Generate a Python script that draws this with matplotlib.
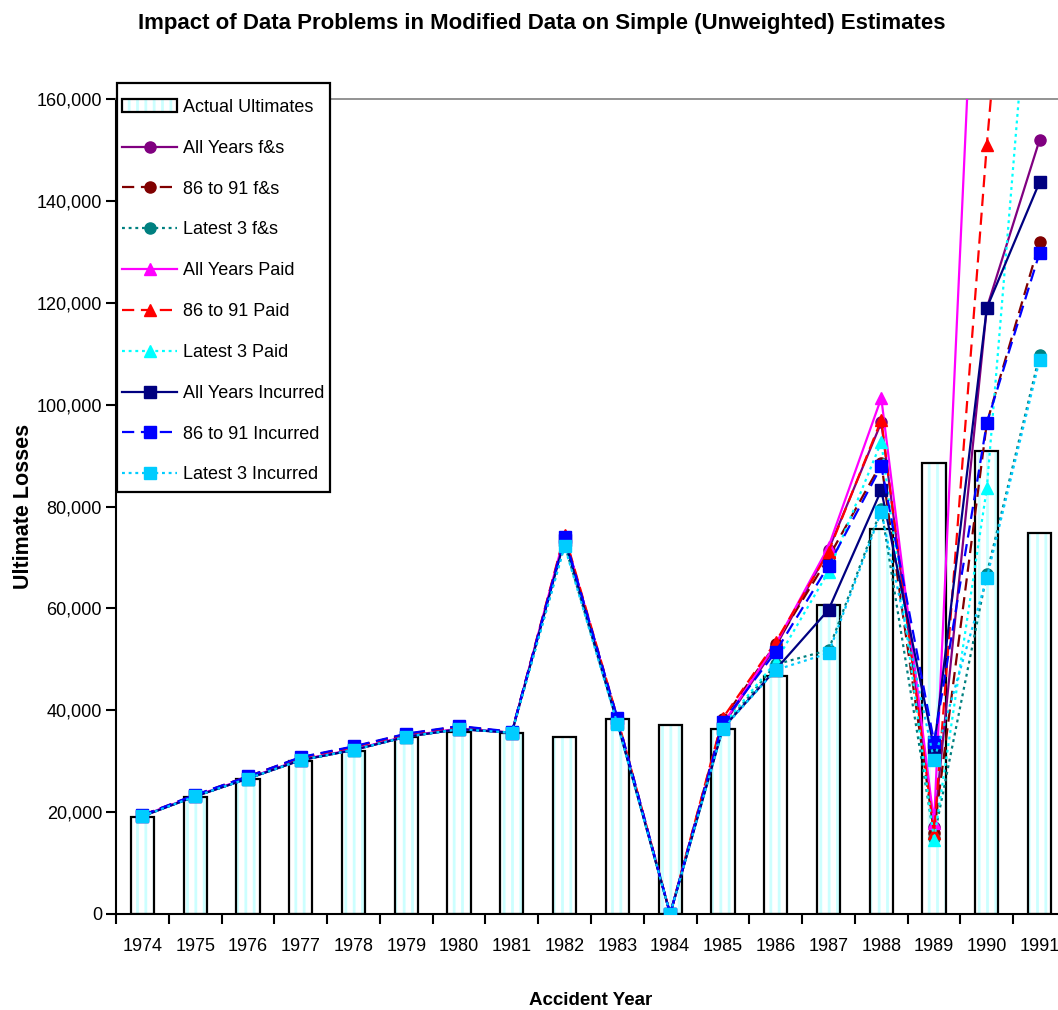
import numpy as np
import matplotlib
matplotlib.use('Agg')
import matplotlib.pyplot as plt
from matplotlib.patches import Patch, Rectangle
from matplotlib.ticker import FuncFormatter, FixedLocator

plt.rcParams['font.family'] = ['Liberation Sans', 'DejaVu Sans']
plt.rcParams['hatch.linewidth'] = 2.0
fs = 13

years = [str(y) for y in range(1974, 1992)]

actual = [19000, 23000, 26500, 30000, 32000, 34800, 35700, 35500, 34800,
	38300, 37100, 36300, 46700, 60700, 75600, 88500, 90900, 74800]

all_fs = [19200, 23100, 26600, 30200, 32200, 34800, 36300, 35600, 73800,
	38000, 0, 37000, 52500, 71500, 96500, 17000, 119000, 152000]
fs_8691 = [19400, 23300, 27000, 30700, 32800, 35300, 36800, 35700, 74000,
	38400, 0, 38200, 53000, 70000, 88500, 16000, 96400, 131900]
fs_l3 = [19200, 23100, 26600, 30200, 32200, 34800, 36300, 35600, 72500,
	37500, 0, 36600, 49000, 51800, 79500, 15000, 66800, 109700]
all_paid = [19300, 23200, 26700, 30300, 32300, 34900, 36400, 35600, 74300,
	38000, 0, 37300, 53000, 72100, 101300, 17900, 245000, 330000]
paid_8691 = [19400, 23300, 27000, 30700, 32800, 35300, 36800, 35700, 74500,
	38500, 0, 38500, 53400, 71100, 97000, 15900, 151000, 270000]
paid_l3 = [19200, 23100, 26600, 30200, 32200, 34800, 36300, 35600, 73000,
	37800, 0, 37000, 49500, 67200, 92700, 14500, 83600, 210000]
all_inc = [19200, 23100, 26600, 30200, 32200, 34800, 36300, 35600, 73500,
	37500, 0, 36500, 48000, 59700, 83200, 32600, 119000, 143700]
inc_8691 = [19400, 23400, 27000, 30800, 32900, 35400, 36900, 35800, 74000,
	38500, 0, 37700, 51500, 68400, 87900, 33800, 96400, 129800]
inc_l3 = [19200, 23100, 26600, 30200, 32200, 34800, 36300, 35600, 72200,
	37300, 0, 36400, 47900, 51200, 79000, 30200, 66000, 108800]

dash = (0, (5.5, 3))
dot = (0, (1.3, 1.7))
series = [
	('All Years f&s', all_fs, '#800080', '-', 'o'),
	('86 to 91 f&s', fs_8691, '#800000', dash, 'o'),
	('Latest 3 f&s', fs_l3, '#008080', dot, 'o'),
	('All Years Paid', all_paid, '#FF00FF', '-', '^'),
	('86 to 91 Paid', paid_8691, '#FF0000', dash, '^'),
	('Latest 3 Paid', paid_l3, '#00FFFF', dot, '^'),
	('All Years Incurred', all_inc, '#000080', '-', 's'),
	('86 to 91 Incurred', inc_8691, '#0000FF', dash, 's'),
	('Latest 3 Incurred', inc_l3, '#00CCFF', dot, 's'),
]

fig = plt.figure(figsize=(10.58, 10.10), dpi=100)
ax = fig.add_axes([116/1058, 96/1010, 950/1058, 815/1010])

x = np.arange(len(years))
bw = 0.44
ax.bar(x, actual, bw, color='white', edgecolor='#ccffff', hatch='||', linewidth=0, zorder=1)
ax.bar(x, actual, bw, color='none', edgecolor='black', linewidth=1.6, zorder=2)

handles = [(Patch(facecolor='white', edgecolor='#ccffff', hatch='||', linewidth=0),
	Patch(facecolor='none', edgecolor='black', linewidth=1.6))]
labels = ['Actual Ultimates']
for lab, vals, c, ls, m in series:
	ms = 9 if m == '^' else 8
	ln, = ax.plot(x, vals, color=c, linestyle=ls, linewidth=1.6, marker=m,
		markersize=ms, markeredgecolor=c, markerfacecolor=c, zorder=3)
	handles.append(ln)
	labels.append(lab)

ax.set_xlim(-0.5, len(years) - 0.5)
ax.set_ylim(0, 160000)
ax.set_yticks(np.arange(0, 160001, 20000))
ax.yaxis.set_major_formatter(FuncFormatter(lambda v, p: '{:,.0f}'.format(v)))
ax.xaxis.set_major_locator(FixedLocator(np.arange(-0.5, len(years), 1.0)))
ax.set_xticklabels([])
ax.set_xticks(x, minor=True)
ax.set_xticklabels(years, minor=True)
ax.tick_params(axis='x', which='major', direction='out', length=7, width=1.5)
ax.tick_params(axis='x', which='minor', length=0, pad=17, labelsize=fs)
ax.tick_params(axis='y', direction='out', length=7, width=1.5, labelsize=fs, pad=3)

ax.spines['right'].set_visible(False)
ax.spines['top'].set_color('#808080')
ax.spines['top'].set_linewidth(1.2)
ax.spines['left'].set_linewidth(1.5)
ax.spines['bottom'].set_linewidth(1.5)

ax.set_ylabel('Ultimate Losses', fontsize=15.5, fontweight='bold', labelpad=2)
ax.set_xlabel('Accident Year', fontsize=13.5, fontweight='bold', labelpad=27)
fig.text(542/1058, 1 - 23/1010, 'Impact of Data Problems in Modified Data on Simple (Unweighted) Estimates',
	ha='center', va='center', fontsize=16, fontweight='bold')

# legend box drawn separately so the padding can match
box = Rectangle((117/1058, 1 - 492/1010), 213/1058, 409/1010, transform=fig.transFigure,
	facecolor='white', edgecolor='black', linewidth=1.6, clip_on=False, zorder=9)
ax.add_patch(box)
leg = ax.legend(handles, labels, loc='upper left', bbox_to_anchor=(122/1058, 1 - 99/1010),
	bbox_transform=fig.transFigure, borderaxespad=0, fontsize=fs, numpoints=1,
	handlelength=3.05, handletextpad=0.33, labelspacing=1.32, borderpad=0,
	frameon=False)
leg.set_zorder(10)

fig.savefig('out.png', dpi=100)
